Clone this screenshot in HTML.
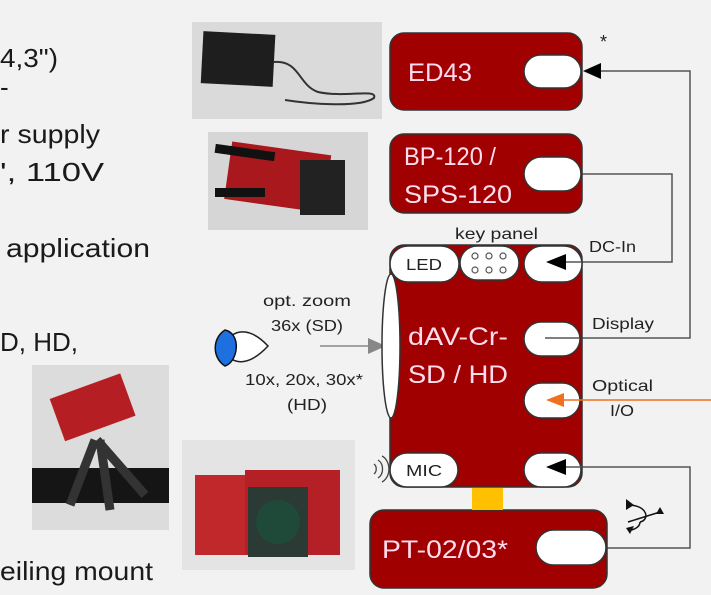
<!DOCTYPE html>
<html><head><meta charset="utf-8"><style>
html,body{margin:0;padding:0;background:#f2f2f2;width:711px;height:595px;overflow:hidden}
svg{display:block}
</style></head><body>
<svg width="711" height="595" viewBox="0 0 711 595" font-family="Liberation Sans, sans-serif">
<rect width="711" height="595" fill="#f2f2f2"/>
<!-- left text -->
<g font-size="26" fill="#1a1a1a">
<text x="0" y="67" textLength="58" lengthAdjust="spacingAndGlyphs">4,3")</text>
<text x="0" y="96">-</text>
<text x="0" y="143" textLength="100" lengthAdjust="spacingAndGlyphs">r supply</text>
<text x="0" y="181" textLength="104" lengthAdjust="spacingAndGlyphs">', 110V</text>
<text x="6" y="257" textLength="144" lengthAdjust="spacingAndGlyphs">application</text>
<text x="0" y="351" textLength="78" lengthAdjust="spacingAndGlyphs">D, HD,</text>
<text x="0" y="580" textLength="153" lengthAdjust="spacingAndGlyphs">eiling mount</text>
</g>
<!-- photos -->
<rect x="192" y="22" width="190" height="97" fill="#dadada"/>
<rect x="202" y="33" width="72" height="52" fill="#1e1e1e" transform="rotate(3 238 60)"/>
<path d="M274 62 C300 60 298 85 318 92 C345 98 378 88 374 98 C360 108 310 104 285 100" stroke="#333" stroke-width="2" fill="none"/>
<rect x="208" y="132" width="160" height="98" fill="#d6d6d6"/>
<rect x="228" y="148" width="100" height="58" fill="#a8181c" transform="rotate(8 277 175)"/>
<rect x="215" y="148" width="60" height="9" fill="#111" transform="rotate(8 245 152)"/>
<rect x="215" y="188" width="50" height="9" fill="#111"/>
<rect x="300" y="160" width="45" height="55" fill="#222"/>
<rect x="32" y="365" width="137" height="165" fill="#dcdcdc"/>
<rect x="32" y="468" width="137" height="35" fill="#151515"/>
<rect x="55" y="385" width="75" height="45" fill="#b51f24" transform="rotate(-20 92 407)"/>
<path d="M95 440 L70 505 M100 440 L110 510 M97 440 L145 495" stroke="#333" stroke-width="9"/>
<rect x="182" y="440" width="173" height="130" fill="#e4e4e4"/>
<rect x="195" y="475" width="55" height="80" fill="#c0282c"/>
<rect x="245" y="470" width="95" height="85" fill="#b42025"/>
<rect x="248" y="487" width="60" height="70" fill="#2b3a34"/>
<circle cx="278" cy="522" r="22" fill="#1f4a3a"/>
<!-- connectors -->
<g stroke="#555" stroke-width="1.5" fill="none">
<polyline points="545,338 690,338 690,71 598,71"/>
<polyline points="582,174 672,174 672,262 560,262"/>
<polyline points="560,467 690,467 690,548 607,548"/>
<line x1="320" y1="346" x2="370" y2="346" stroke="#888"/>
</g>
<polygon points="583,71 601,63 601,79" fill="#000"/>
<polygon points="386,346 368,338 368,354" fill="#888"/>
<!-- boxes -->
<g fill="#a00000" stroke="#333" stroke-width="1.5">
<rect x="390" y="33" width="192" height="77" rx="14"/>
<rect x="390" y="134" width="192" height="79" rx="14"/>
<rect x="390" y="245" width="192" height="242" rx="14"/>
<rect x="370" y="510" width="237" height="78" rx="14"/>
</g>
<rect x="472" y="488" width="31" height="22" fill="#ffc000"/>
<g fill="#fff" stroke="#333" stroke-width="1.5">
<rect x="524" y="55" width="57" height="33" rx="16.5"/>
<rect x="524" y="157" width="57" height="34" rx="17"/>
<rect x="390" y="246" width="69" height="36" rx="18"/>
<rect x="460" y="246" width="59" height="34" rx="17"/>
<rect x="524" y="246" width="58" height="36" rx="18"/>
<rect x="524" y="322" width="56" height="34" rx="17"/>
<rect x="524" y="383" width="56" height="35" rx="17.5"/>
<rect x="390" y="453" width="68" height="34" rx="17"/>
<rect x="524" y="453" width="57" height="34" rx="17"/>
<rect x="536" y="530" width="70" height="35" rx="17.5"/>
<ellipse cx="391" cy="346" rx="9" ry="72"/>
</g>
<line x1="545" y1="338" x2="580" y2="338" stroke="#555" stroke-width="1.5"/>
<line x1="560" y1="262" x2="582" y2="262" stroke="#555" stroke-width="1.5"/>
<line x1="560" y1="467" x2="582" y2="467" stroke="#555" stroke-width="1.5"/>
<line x1="711" y1="400" x2="560" y2="400" stroke="#f07020" stroke-width="1.5"/>
<polygon points="546,400 564,393 564,407" fill="#f07020"/>
<polygon points="546,262 566,254 566,270" fill="#000"/>
<polygon points="546,467 566,459 566,475" fill="#000"/>
<g fill="#fff" stroke="#555" stroke-width="1.2">
<circle cx="475" cy="256" r="3"/><circle cx="489" cy="256" r="3"/><circle cx="503" cy="256" r="3"/>
<circle cx="475" cy="270" r="3"/><circle cx="489" cy="270" r="3"/><circle cx="503" cy="270" r="3"/>
</g>
<!-- box labels -->
<g fill="#fde" font-size="25" lengthAdjust="spacingAndGlyphs">
<text x="408" y="81" textLength="64" lengthAdjust="spacingAndGlyphs">ED43</text>
<text x="404" y="165" textLength="92" lengthAdjust="spacingAndGlyphs">BP-120 /</text>
<text x="404" y="203" textLength="108" lengthAdjust="spacingAndGlyphs">SPS-120</text>
<text x="408" y="345" textLength="100" lengthAdjust="spacingAndGlyphs">dAV-Cr-</text>
<text x="408" y="383" textLength="100" lengthAdjust="spacingAndGlyphs">SD / HD</text>
<text x="382" y="558" textLength="126" lengthAdjust="spacingAndGlyphs">PT-02/03*</text>
</g>
<g font-size="16" fill="#222">
<text x="406" y="270" textLength="36" lengthAdjust="spacingAndGlyphs">LED</text>
<text x="406" y="476" textLength="36" lengthAdjust="spacingAndGlyphs">MIC</text>
</g>
<g font-size="16" fill="#222">
<text x="455" y="239" textLength="83" lengthAdjust="spacingAndGlyphs">key panel</text>
<text x="589" y="252" textLength="47" lengthAdjust="spacingAndGlyphs">DC-In</text>
<text x="592" y="329" textLength="62" lengthAdjust="spacingAndGlyphs">Display</text>
<text x="592" y="391" textLength="61" lengthAdjust="spacingAndGlyphs">Optical</text>
<text x="610" y="416" textLength="24" lengthAdjust="spacingAndGlyphs">I/O</text>
<text x="600" y="48" font-size="18">*</text>
<text x="263" y="306" textLength="88" lengthAdjust="spacingAndGlyphs">opt. zoom</text>
<text x="271" y="331" textLength="72" lengthAdjust="spacingAndGlyphs">36x (SD)</text>
<text x="245" y="385" textLength="118" lengthAdjust="spacingAndGlyphs">10x, 20x, 30x*</text>
<text x="287" y="410" textLength="40" lengthAdjust="spacingAndGlyphs">(HD)</text>
</g>
<!-- eye -->
<path d="M222 348 C235 322 255 332 268 346 C255 360 235 372 222 348Z" fill="#fff" stroke="#222" stroke-width="1.5"/>
<path d="M225 330 C212 338 212 358 225 366 C238 362 242 334 225 330Z" fill="#1e6fe0" stroke="#111" stroke-width="1.5"/>
<!-- mic waves -->
<g stroke="#444" stroke-width="1.3" fill="none">
<path d="M374 464 a5 6 0 0 1 0 10"/><path d="M378 460 a8 10 0 0 1 0 18"/><path d="M382 456 a11 14 0 0 1 0 26"/>
</g>
<!-- usb -->
<g stroke="#111" stroke-width="1.5" fill="none">
<path d="M628 505 C648 505 650 520 640 522 M628 522 L660 512 M640 522 C640 528 632 530 630 530"/>
</g>
<polygon points="626,499 634,505 626,510" fill="#111"/>
<polygon points="660,507 664,514 656,514" fill="#111"/>
<polygon points="626,528 634,526 630,534" fill="#111"/>
</svg>
</body></html>
